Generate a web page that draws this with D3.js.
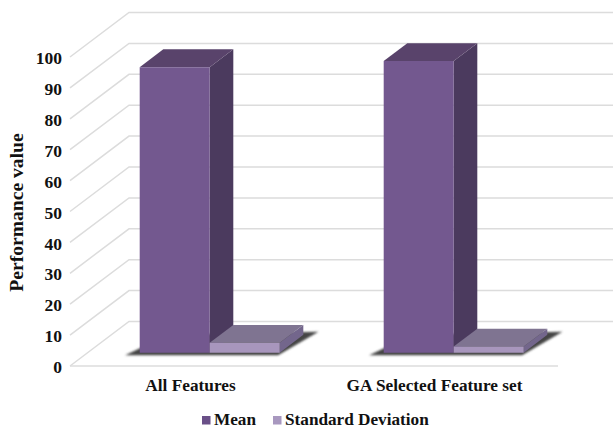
<!DOCTYPE html>
<html>
<head>
<meta charset="utf-8">
<script src="https://cdn.jsdelivr.net/npm/d3@7"></script>
<style>
  html, body { margin: 0; padding: 0; background: #fff; }
  text { font-family: "Liberation Serif", serif; font-weight: bold; fill: #111; }
</style>
</head>
<body>
<svg id="chart" width="613" height="428"></svg>
<script>
const categories = ["All Features", "GA Selected Feature set"];
const seriesNames = ["Mean", "Standard Deviation"];
const meanValues = [92.4, 94.4];
const stdValues = [3.2, 2.0];
const yTicks = [0, 10, 20, 30, 40, 50, 60, 70, 80, 90, 100];

const frontColors = ["#73588f", "#a896bd"];
const sideColors = ["#4b3a5e", "#73668c"];
const topColors = ["#59436b", "#7f7491"];
const legendColors = ["#6a5088", "#a898bf"];
const gridColor = "#dcdcdc";

const svg = d3.select("#chart");

// Front plane of the 3D box
const x = d3.scaleBand().domain(categories).range([70, 558]);
const y = d3.scaleLinear().domain([0, 100]).range([366, 57]);
const series = d3.scaleBand().domain(seriesNames).range([0, 140]);

// Depth axis: 0 at the front plane, 1 at the back wall
const depthX = d3.scaleLinear().domain([0, 1]).range([0, 59]);
const depthY = d3.scaleLinear().domain([0, 1]).range([0, -44.5]);
const project = (px, v, z) => [px + depthX(z), y(v) + depthY(z)];
const pts = a => a.map(p => p.join(",")).join(" ");
const barFront = 0.3, barBack = 0.7;

const defs = svg.append("defs");
defs.append("filter").attr("id", "floorShadow")
  .attr("x", "-10%").attr("y", "-40%").attr("width", "120%").attr("height", "180%")
  .append("feGaussianBlur").attr("stdDeviation", 1.2);

// Wall gridlines with their side-wall diagonals
const grid = svg.append("g").attr("fill", "none").attr("stroke", gridColor).attr("stroke-width", 1.5);
yTicks.forEach(t => {
  const a = project(x.range()[0], t, 0);
  const b = project(x.range()[0], t, 1);
  const c = project(x.range()[1], t, 1);
  grid.append("polyline").attr("points", pts([a, b, c]));
});
grid.append("line")
  .attr("x1", x.range()[0]).attr("x2", x.range()[1])
  .attr("y1", y(0)).attr("y2", y(0));

// One group per category: floor shadow, then the two boxes
categories.forEach((cat, i) => {
  const g = svg.append("g");
  const center = x(cat) + x.bandwidth() / 2;
  const left = center - series.range()[1] / 2;
  const right = center + series.range()[1] / 2;

  const s0 = project(left - 11, 0, barFront - 0.06);
  const s1 = project(right + 2, 0, barFront - 0.06);
  const s2 = project(right + 11, 0, barBack + 0.07);
  const s3 = project(left + 5, 0, barBack);
  g.append("polygon")
    .attr("points", pts([s0, s1, s2, s3]))
    .attr("fill", "#444")
    .attr("filter", "url(#floorShadow)");

  [meanValues[i], stdValues[i]].forEach((v, k) => {
    const x0 = left + series(seriesNames[k]);
    const x1 = x0 + series.bandwidth();
    const fbl = project(x0, 0, barFront), fbr = project(x1, 0, barFront);
    const ftl = project(x0, v, barFront), ftr = project(x1, v, barFront);
    const btl = project(x0, v, barBack), btr = project(x1, v, barBack);
    const bbr = project(x1, 0, barBack);
    g.append("polygon").attr("points", pts([fbr, ftr, btr, bbr])).attr("fill", sideColors[k]);
    g.append("polygon").attr("points", pts([ftl, ftr, btr, btl])).attr("fill", topColors[k]);
    g.append("polygon").attr("points", pts([fbl, fbr, ftr, ftl])).attr("fill", frontColors[k]);
  });
});

// Value axis labels
const yAxis = d3.axisLeft(y).tickValues(yTicks).tickSize(0).tickPadding(0);
const yG = svg.append("g").attr("transform", "translate(62,1)").call(yAxis);
yG.select(".domain").remove();
yG.selectAll("text").style("font-size", "17.5px").style("font-family", "Liberation Serif").attr("fill", "#111");

// Category labels
const xAxis = d3.axisBottom(x).tickSize(0).tickPadding(0);
const xG = svg.append("g").attr("transform", "translate(-1.5,379)").call(xAxis);
xG.select(".domain").remove();
xG.selectAll("text").style("font-size", "17.3px").style("font-family", "Liberation Serif").attr("fill", "#111");

// Axis title
svg.append("text")
  .attr("transform", "translate(23,212.5) rotate(-90)")
  .attr("text-anchor", "middle")
  .style("font-size", "19.6px")
  .text("Performance value");

// Legend
const legendX = [202, 273];
seriesNames.forEach((name, i) => {
  svg.append("rect").attr("x", legendX[i]).attr("y", 416).attr("width", 8.5).attr("height", 8.5).attr("fill", legendColors[i]);
  svg.append("text").attr("x", legendX[i] + 12).attr("y", 425).style("font-size", "17.2px").text(name);
});
</script>
</body>
</html>
